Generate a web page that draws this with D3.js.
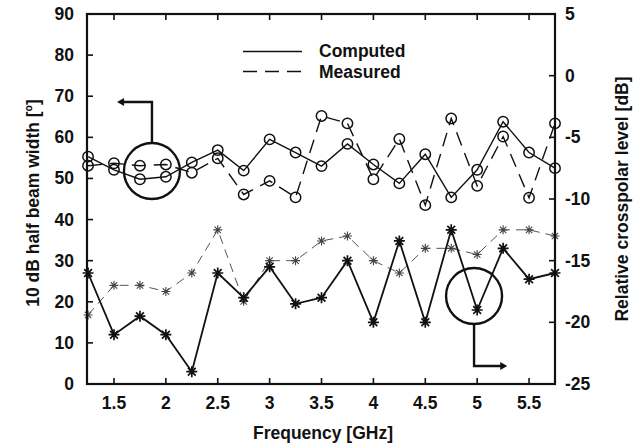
<!DOCTYPE html>
<html><head><meta charset="utf-8">
<script src="https://cdn.jsdelivr.net/npm/d3@7"></script>
<style>
html,body{margin:0;padding:0;background:#fff;}
svg text{font-family:"Liberation Sans",Arial,sans-serif;font-weight:bold;fill:#111;}
</style></head>
<body>
<svg id="c" width="643" height="447"></svg>
<script>
// ---- data ----
const freqs = [1.25,1.5,1.75,2.0,2.25,2.5,2.75,3.0,3.25,3.5,3.75,4.0,4.25,4.5,4.75,5.0,5.25,5.5,5.75];
const beamComputed = [55.3,52.1,49.8,50.4,53.9,56.9,51.9,59.5,56.3,53.0,58.4,53.4,48.8,55.9,45.4,52.1,63.8,56.3,52.5];
const beamMeasured = [53.1,53.7,53.1,53.4,51.4,54.9,46.1,49.4,45.4,65.2,63.4,49.8,59.6,43.5,64.6,48.2,60.2,45.3,63.4];
const xpolComputed = [-16,-21,-19.5,-21,-24,-16,-18,-15.5,-18.5,-18,-15,-20,-13.4,-20,-12.5,-19,-14,-16.5,-16];
const xpolMeasured = [-19.4,-17,-17,-17.5,-16,-12.5,-18.3,-15,-15,-13.4,-13,-15,-16,-14,-14,-14.5,-12.5,-12.5,-13];
const xTicks = [1.5,2,2.5,3,3.5,4,4.5,5,5.5];
const leftTicks = [0,10,20,30,40,50,60,70,80,90];
const rightTicks = [-25,-20,-15,-10,-5,0,5];
const legendLabels = ["Computed","Measured"];
// annotation anchors (data units)
const noteLeft = {x:1.866, y:51.8, arrowY:68.6, arrowX:1.53};
const noteRight = {x:4.97, y:-17.87, arrowY:-23.54, arrowX:5.29};

// ---- layout ----
const L=87, R=555, T=14, B=384;
const svg = d3.select("#c");
const x = d3.scaleLinear().domain([1.24,5.75]).range([L,R]);
const yL = d3.scaleLinear().domain([0,90]).range([B,T]);
const yR = d3.scaleLinear().domain([-25,5]).range([B,T]);
const FS = 17.5;

const TL = 6;
// ticks
const g = svg.append("g").attr("stroke","#111").attr("stroke-width",1.6);
xTicks.forEach(t=>{
  g.append("line").attr("x1",x(t)).attr("x2",x(t)).attr("y1",B).attr("y2",B-TL);
  g.append("line").attr("x1",x(t)).attr("x2",x(t)).attr("y1",T).attr("y2",T+TL);
});
leftTicks.forEach(t=>{
  g.append("line").attr("x1",L).attr("x2",L+TL).attr("y1",yL(t)).attr("y2",yL(t));
});
rightTicks.forEach(t=>{
  g.append("line").attr("x1",R).attr("x2",R-TL).attr("y1",yR(t)).attr("y2",yR(t));
});
// tick labels
xTicks.forEach(t=>{
  svg.append("text").attr("x",x(t)).attr("y",409).attr("text-anchor","middle")
    .attr("font-size",FS).text(d3.format("")(t));
});
leftTicks.forEach(t=>{
  svg.append("text").attr("x",74).attr("y",yL(t)+6).attr("text-anchor","end")
    .attr("font-size",FS).text(t);
});
rightTicks.forEach(t=>{
  svg.append("text").attr("x",565).attr("y",yR(t)+6).attr("text-anchor","start")
    .attr("font-size",FS).text(t);
});
// axis titles
svg.append("text").attr("x",(L+R)/2+2).attr("y",439).attr("text-anchor","middle")
  .attr("font-size",FS).text("Frequency [GHz]");
svg.append("text").attr("transform",`translate(39,${(T+B)/2+4}) rotate(-90)`)
  .attr("text-anchor","middle").attr("font-size",FS).text("10 dB half beam width [º]");
svg.append("text").attr("transform",`translate(628,${(T+B)/2}) rotate(-90)`)
  .attr("text-anchor","middle").attr("font-size",FS).text("Relative crosspolar level  [dB]");

// ---- series ----
const lineL = d3.line().x((d,i)=>x(freqs[i])).y(d=>yL(d));
const lineR = d3.line().x((d,i)=>x(freqs[i])).y(d=>yR(d));
const plot = svg.append("g");

function starPath(s){
  const d = s*0.7071;
  return `M0,${-s}V${s}M${-s},0H${s}M${-d},${-d}L${d},${d}M${-d},${d}L${d},${-d}`;
}
function stars(vals, s, color, sw){
  plot.append("g").selectAll("path").data(vals).join("path")
    .attr("transform",(d,i)=>`translate(${x(freqs[i])},${yR(d)})`)
    .attr("d",starPath(s)).attr("fill","none").attr("stroke",color).attr("stroke-width",sw);
}
function circles(vals){
  plot.append("g").selectAll("circle").data(vals).join("circle")
    .attr("cx",(d,i)=>x(freqs[i])).attr("cy",d=>yL(d)).attr("r",5.2)
    .attr("fill","none").attr("stroke","#111").attr("stroke-width",1.5);
}
// crosspolar measured (thin grey dashed)
plot.append("path").datum(xpolMeasured).attr("d",lineR).attr("fill","none")
  .attr("stroke","#555").attr("stroke-width",1).attr("stroke-dasharray","9,6");
stars(xpolMeasured, 4.5, "#444", 1.1);
// crosspolar computed
plot.append("path").datum(xpolComputed).attr("d",lineR).attr("fill","none")
  .attr("stroke","#111").attr("stroke-width",1.8);
stars(xpolComputed, 5.5, "#111", 1.7);
// beam width measured (dashed)
plot.append("path").datum(beamMeasured).attr("d",lineL).attr("fill","none")
  .attr("stroke","#111").attr("stroke-width",1.4).attr("stroke-dasharray","14,8");
circles(beamMeasured);
// beam width computed
plot.append("path").datum(beamComputed).attr("d",lineL).attr("fill","none")
  .attr("stroke","#111").attr("stroke-width",1.4);
circles(beamComputed);

// ---- annotations ----
const ann = svg.append("g").attr("stroke","#111").attr("stroke-width",2.4).attr("fill","none");
const r = 28;
{
  const cx=x(noteLeft.x), cy=yL(noteLeft.y);
  ann.append("circle").attr("cx",cx).attr("cy",cy).attr("r",r);
  const ay=yL(noteLeft.arrowY), ax=x(noteLeft.arrowX);
  ann.append("path").attr("d",`M${cx},${cy-r} V${ay} H${ax+6}`);
  svg.append("path").attr("d",`M${ax},${ay} l7,-4 v8 z`).attr("fill","#111");
}
{
  const cx=x(noteRight.x), cy=yR(noteRight.y);
  ann.append("circle").attr("cx",cx).attr("cy",cy).attr("r",r);
  const ay=yR(noteRight.arrowY), ax=x(noteRight.arrowX);
  ann.append("path").attr("d",`M${cx},${cy+r} V${ay} H${ax-6}`);
  svg.append("path").attr("d",`M${ax},${ay} l-7,-4 v8 z`).attr("fill","#111");
}

// ---- legend ----
const lg = svg.append("g");
lg.append("line").attr("x1",243).attr("x2",302).attr("y1",51.5).attr("y2",51.5)
  .attr("stroke","#111").attr("stroke-width",1.4);
lg.append("line").attr("x1",243).attr("x2",302).attr("y1",71.5).attr("y2",71.5)
  .attr("stroke","#111").attr("stroke-width",1.4).attr("stroke-dasharray","14,8");
lg.append("text").attr("x",319).attr("y",57).attr("font-size",FS).text(legendLabels[0]);
lg.append("text").attr("x",319).attr("y",78).attr("font-size",FS).text(legendLabels[1]);

// frame
svg.append("rect").attr("x",L).attr("y",T).attr("width",R-L).attr("height",B-T)
  .attr("fill","none").attr("stroke","#111").attr("stroke-width",2.2);
</script>
</body></html>
